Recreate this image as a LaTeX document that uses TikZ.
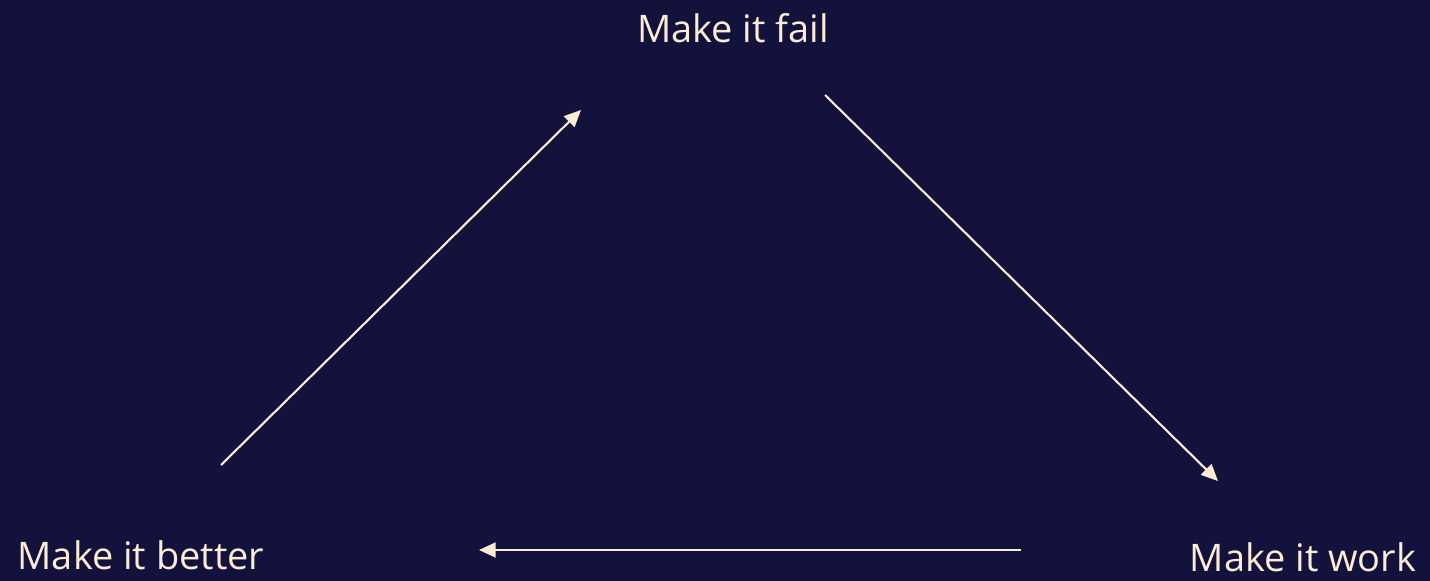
\documentclass[tikz,border=0pt]{standalone}
\usepackage{fontspec}
\setmainfont{Open Sans}
\usetikzlibrary{arrows.meta}
\definecolor{nightbg}{RGB}{18,18,60}
\definecolor{cream}{RGB}{253,236,212}

\begin{document}
\begin{tikzpicture}[x=0.02cm,y=-0.02cm]
  \fill[nightbg] (0,0) rectangle (1430,581);
  \useasboundingbox (0,0) rectangle (1430,581);
  \tikzset{
    stage/.style={text=cream,font=\fontsize{21.6}{26}\selectfont,inner sep=0pt},
    cycle/.style={draw=cream,line width=1.2pt,-{Triangle[length=9.5pt,width=8.5pt]}}
  }
  \node[stage] (fail) at (733,28) {Make it fail};
  \node[stage] (better) at (141,555) {Make it better};
  \node[stage] (work) at (1303,557) {Make it work};
  \coordinate (betterout) at (221,465);
  \coordinate (failin) at (581,110);
  \coordinate (failout) at (825,95);
  \coordinate (workin) at (1218,481);
  \coordinate (workout) at (1021,550);
  \coordinate (betterin) at (479,550);
  \draw[cycle] (betterout) -- (failin);
  \draw[cycle] (failout) -- (workin);
  \draw[cycle] (workout) -- (betterin);
\end{tikzpicture}
\end{document}
